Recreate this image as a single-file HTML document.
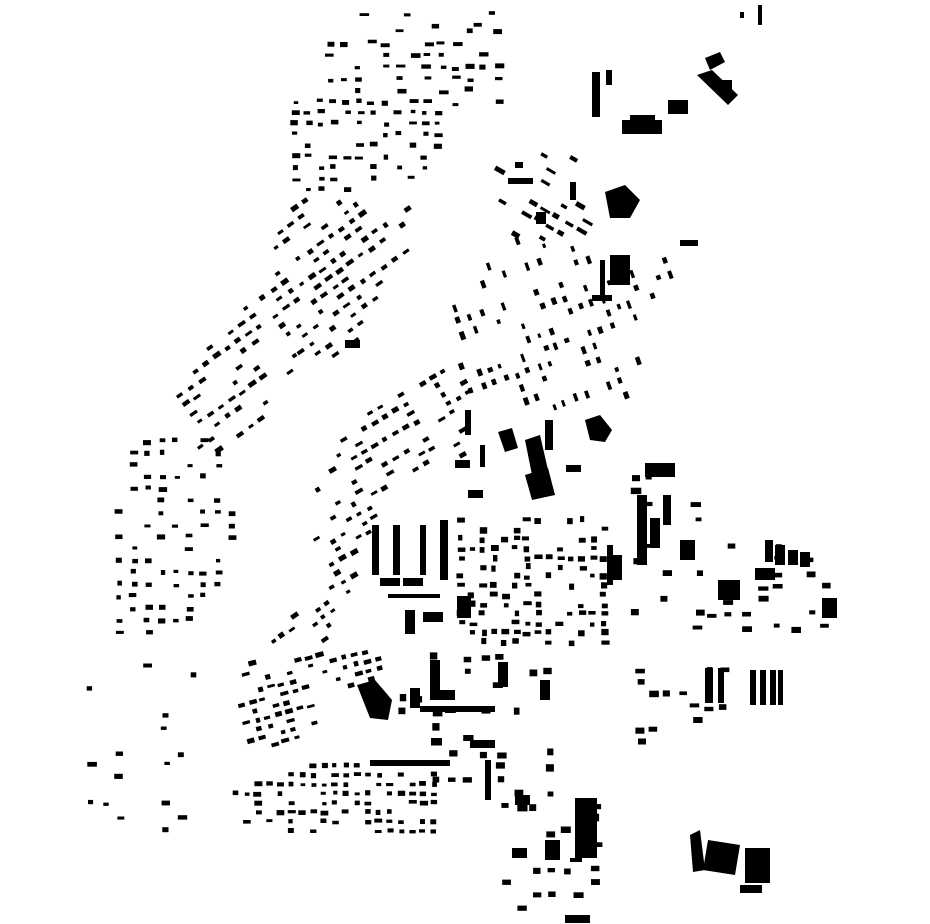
<!DOCTYPE html>
<html><head><meta charset="utf-8"><style>html,body{margin:0;padding:0;background:#fff}svg{display:block}</style></head>
<body>
<svg id="s" width="930" height="924" viewBox="0 0 930 924" xmlns="http://www.w3.org/2000/svg">
<g fill="#000">
<!-- large buildings -->
<rect x="372" y="525" width="7" height="50"/><rect x="393" y="525" width="7" height="50"/><rect x="420" y="525" width="6" height="50"/>
<rect x="380" y="578" width="20" height="8"/><rect x="403" y="578" width="20" height="8"/><rect x="388" y="594" width="52" height="4"/>
<rect x="440" y="520" width="8" height="60"/>
<rect x="405" y="610" width="10" height="24"/><rect x="423" y="612" width="20" height="10"/>
<rect x="457" y="596" width="14" height="22"/>
<polygon points="498,432 512,428 518,448 505,452"/>
<polygon points="525,440 540,435 548,470 532,475"/>
<polygon points="525,475 548,468 555,495 532,500"/>
<polygon points="585,420 600,415 612,430 605,442 590,440"/>
<rect x="465" y="410" width="6" height="25"/><rect x="455" y="460" width="15" height="8"/>
<rect x="468" y="490" width="15" height="8"/><rect x="480" y="445" width="5" height="22"/>
<rect x="545" y="420" width="8" height="30"/><rect x="566" y="465" width="15" height="7"/>
<rect x="637" y="495" width="10" height="70"/><rect x="650" y="518" width="10" height="30"/>
<rect x="607" y="545" width="6" height="40"/><rect x="612" y="555" width="10" height="25"/>
<rect x="645" y="463" width="30" height="14"/><rect x="663" y="495" width="8" height="30"/>
<rect x="765" y="540" width="8" height="22"/><rect x="775" y="545" width="10" height="20"/><rect x="788" y="550" width="10" height="15"/><rect x="800" y="552" width="10" height="15"/>
<rect x="680" y="540" width="15" height="20"/><rect x="718" y="580" width="22" height="20"/><rect x="755" y="568" width="20" height="12"/>
<rect x="822" y="598" width="15" height="20"/>
<rect x="705" y="668" width="8" height="35"/><rect x="718" y="668" width="6" height="35"/>
<rect x="750" y="670" width="6" height="35"/><rect x="760" y="670" width="6" height="35"/><rect x="770" y="670" width="6" height="35"/><rect x="778" y="670" width="5" height="35"/>
<polygon points="357,685 375,680 392,700 388,720 370,718"/><rect x="430" y="660" width="10" height="30"/><rect x="430" y="690" width="25" height="10"/>
<rect x="498" y="662" width="10" height="25"/><rect x="410" y="688" width="10" height="20"/>
<rect x="540" y="680" width="10" height="20"/><rect x="420" y="706" width="75" height="6"/><rect x="470" y="740" width="25" height="8"/>
<rect x="370" y="760" width="80" height="6"/><rect x="485" y="760" width="6" height="40"/>
<rect x="575" y="798" width="22" height="60"/><rect x="570" y="858" width="12" height="4"/>
<rect x="545" y="840" width="15" height="20"/><rect x="512" y="848" width="15" height="10"/>
<rect x="565" y="915" width="25" height="8"/><rect x="515" y="795" width="15" height="10"/>
<polygon points="690,835 700,830 705,870 693,872"/><polygon points="708,840 740,845 735,875 703,870"/><rect x="745" y="848" width="25" height="35"/><rect x="740" y="885" width="22" height="8"/>
<!-- top right -->
<rect x="592" y="72" width="8" height="45"/><rect x="606" y="70" width="6" height="15"/>
<rect x="622" y="120" width="40" height="14"/><rect x="630" y="115" width="25" height="18"/>
<rect x="668" y="100" width="20" height="14"/><polygon points="705,58 720,52 725,62 710,70"/>
<polygon points="697,75 712,70 738,95 728,105"/><rect x="722" y="80" width="10" height="12"/>
<polygon points="605,192 625,185 640,200 630,218 610,218"/>
<rect x="515" y="162" width="8" height="6"/><rect x="508" y="178" width="25" height="6"/>
<rect x="570" y="182" width="6" height="18"/><rect x="536" y="212" width="10" height="12"/>
<rect x="600" y="260" width="5" height="40"/><rect x="610" y="255" width="20" height="30"/>
<rect x="592" y="295" width="20" height="6"/><rect x="680" y="240" width="18" height="6"/>
<rect x="740" y="12" width="4" height="6"/><rect x="758" y="5" width="4" height="20"/>
<rect x="345" y="340" width="15" height="8"/>
</g>
<g id="gen" fill="#000"></g>
</svg>
<script>
(function(){
var seed=12345;function r(){seed=(seed*16807)%2147483647;return (seed-1)/2147483646;}
function inside(p,x,y){var c=false;for(var i=0,j=p.length-1;i<p.length;j=i++){var xi=p[i][0],yi=p[i][1],xj=p[j][0],yj=p[j][1];if(((yi>y)!=(yj>y))&&(x<(xj-xi)*(y-yi)/(yj-yi)+xi))c=!c;}return c;}
var g=document.getElementById('gen'),h='';
function region(p,sp,prob,ang,w,hh,jit){
 var xs=p.map(function(a){return a[0]}),ys=p.map(function(a){return a[1]});
 var x0=Math.min.apply(0,xs)-60,x1=Math.max.apply(0,xs)+60,y0=Math.min.apply(0,ys)-60,y1=Math.max.apply(0,ys)+60;
 var cx=(x0+x1)/2,cy=(y0+y1)/2,a=ang*Math.PI/180,ca=Math.cos(a),sa=Math.sin(a);
 for(var u=x0-cx;u<x1-cx;u+=sp)for(var v=y0-cy;v<y1-cy;v+=sp*0.85){
  var x=cx+u*ca-v*sa,y=cy+u*sa+v*ca;
  if(!inside(p,x,y)||r()>prob)continue;
  x+= (r()-.5)*jit;y+=(r()-.5)*jit;
  var ww=w*(0.7+r()*0.7),hv=hh*(0.7+r()*0.6);
  h+='<rect x="'+(x-ww/2).toFixed(1)+'" y="'+(y-hv/2).toFixed(1)+'" width="'+ww.toFixed(1)+'" height="'+hv.toFixed(1)+'" transform="rotate('+ang+' '+x.toFixed(1)+' '+y.toFixed(1)+')"/>';
 }
}
region([[290,95],[440,105],[440,150],[420,185],[290,195]],13,0.6,0,6,4,3);
region([[320,40],[500,20],[500,110],[320,105]],14,0.45,0,7,4,4);
region([[355,2],[500,2],[500,30],[355,30]],14,0.5,0,7,4,3);
region([[300,195],[410,195],[405,265],[350,355],[300,360],[245,290]],13,0.6,-35,6,4,2);
region([[245,290],[300,360],[290,380],[245,450],[215,460],[160,430],[180,395]],13,0.6,-35,6,4,2);
region([[160,430],[240,450],[230,560],[195,640],[110,640],[110,570],[130,455]],14,0.5,0,6,4,3);
region([[450,300],[500,240],[560,230],[600,260],[680,260],[640,390],[580,410],[470,400],[455,340]],14,0.45,70,6,4,3);
region([[310,500],[350,420],[440,360],[470,380],[470,460],[430,470],[380,500],[350,600],[320,590]],12,0.55,-30,6,4,2);
region([[455,515],[605,520],[605,645],[455,645]],11,0.55,0,6,5,3);
region([[262,640],[320,595],[350,610],[320,650],[275,650]],11,0.6,-35,6,4,2);
region([[225,660],[380,645],[385,675],[340,690],[300,750],[250,750],[230,700]],11,0.55,-15,6,4,2);
region([[230,790],[330,760],[440,770],[440,840],[300,840],[240,820]],11,0.6,0,6,4,2);
region([[90,660],[200,660],[200,840],[90,840]],15,0.1,0,7,4,5);
region([[630,470],[840,540],[840,630],[630,630]],16,0.3,0,8,5,5);
region([[630,660],[730,660],[730,745],[630,745]],14,0.35,0,7,5,4);
region([[400,650],[550,650],[550,800],[400,800]],16,0.3,0,8,6,5);
region([[505,790],[600,790],[600,920],[505,920]],15,0.3,0,9,6,5);
region([[500,150],[590,150],[590,240],[500,240]],14,0.35,30,8,4,4);
g.innerHTML=h;
})();
</script>
</body></html>
